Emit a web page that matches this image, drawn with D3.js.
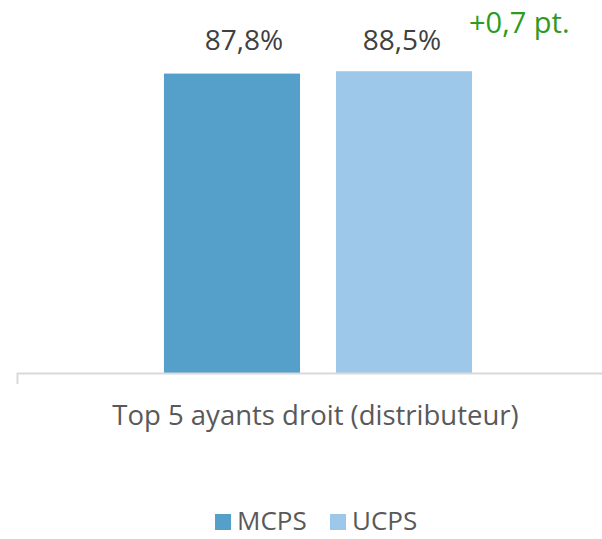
<!DOCTYPE html>
<html>
<head>
<meta charset="utf-8">
<script src="https://cdn.jsdelivr.net/npm/d3@7"></script>
<style>
  html, body { margin: 0; padding: 0; background: #fff; }
  svg { display: block; font-family: "Open Sans", sans-serif; }
</style>
</head>
<body>
<div id="chart"></div>
<script>
// chart data
var categories = ['Top 5 ayants droit (distributeur)'];
var series = ['MCPS', 'UCPS'];
var values = [87.8, 88.5];
var valueLabels = ['87,8%', '88,5%'];
var deltaLabel = '+0,7 pt.';
var colors = ['#559FCB', '#9DC8EA'];

var width = 602, height = 539;
var svg = d3.select('#chart').append('svg')
    .attr('width', width)
    .attr('height', height);

// scales
var plotLeft = 17, plotRight = 619, baseY = 373;
var y = d3.scaleLinear().domain([0, 100]).range([baseY, 32]);
var x0 = d3.scaleBand().domain(categories)
    .range([plotLeft, plotRight])
    .paddingInner(0)
    .paddingOuter(0.477);
var x1 = d3.scaleBand().domain(series)
    .range([0, x0.bandwidth()])
    .paddingInner(0.209)
    .paddingOuter(0);

var g = svg.append('g')
    .attr('transform', 'translate(' + x0(categories[0]) + ',0)');

// bars
g.selectAll('rect.bar')
    .data(values)
    .enter()
    .append('rect')
    .attr('class', 'bar')
    .attr('x', function(d, i) { return x1(series[i]); })
    .attr('y', function(d) { return y(d); })
    .attr('width', x1.bandwidth())
    .attr('height', function(d) { return baseY - y(d); })
    .attr('fill', function(d, i) { return colors[i]; });

// value labels (first one sits a bit right of its bar, like the original)
var labelShift = [12, -2];
g.selectAll('text.val')
    .data(values)
    .enter()
    .append('text')
    .attr('class', 'val')
    .attr('x', function(d, i) { return x1(series[i]) + x1.bandwidth() / 2 + labelShift[i]; })
    .attr('y', 50)
    .attr('text-anchor', 'middle')
    .attr('font-size', 28)
    .attr('fill', '#404040')
    .text(function(d, i) { return valueLabels[i]; });

// difference label
g.append('text')
    .attr('x', x1('UCPS') + x1.bandwidth() - 3)
    .attr('y', 33)
    .attr('font-size', 29)
    .attr('fill', '#2E9A1E')
    .text(deltaLabel);

// axis line
svg.append('line')
    .attr('x1', plotLeft).attr('x2', width)
    .attr('y1', baseY + 0.5).attr('y2', baseY + 0.5)
    .attr('stroke', '#D9D9D9')
    .attr('stroke-width', 2);
svg.append('line')
    .attr('x1', plotLeft + 0.5).attr('x2', plotLeft + 0.5)
    .attr('y1', baseY).attr('y2', baseY + 11)
    .attr('stroke', '#D9D9D9')
    .attr('stroke-width', 2);

// category label
svg.append('text')
    .attr('x', 315.5)
    .attr('y', 425)
    .attr('text-anchor', 'middle')
    .attr('font-size', 27.5)
    .attr('fill', '#595959')
    .text(categories[0]);

// legend (kept just inside the bottom edge)
var legend = svg.append('g').attr('transform', 'translate(215,514)');
var legendX = [0, 115];
series.forEach(function(s, i) {
    legend.append('rect')
        .attr('x', legendX[i]).attr('y', 0)
        .attr('width', 16).attr('height', 16)
        .attr('fill', colors[i]);
    legend.append('text')
        .attr('x', legendX[i] + 22)
        .attr('y', 16)
        .attr('font-size', 26)
        .attr('fill', '#595959')
        .text(s);
});
</script>
</body>
</html>
